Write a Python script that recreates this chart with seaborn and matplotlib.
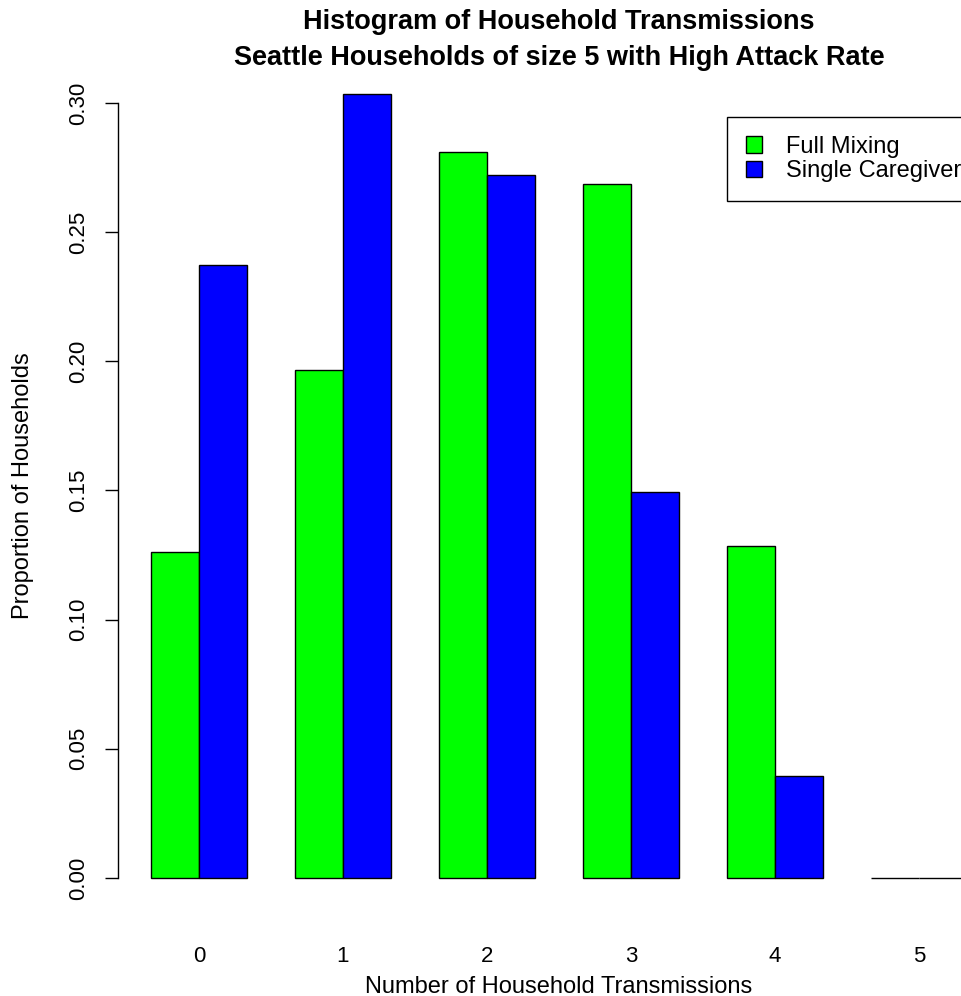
import numpy as np
import pandas as pd
import matplotlib
matplotlib.use('Agg')
import seaborn as sns
import matplotlib.pyplot as plt

# data
transmissions = ['0', '1', '2', '3', '4', '5']
full_mixing = [0.1262, 0.1967, 0.2810, 0.2687, 0.1285, 0.0]
single_caregiver = [0.2373, 0.3035, 0.2721, 0.1494, 0.0395, 0.0]
models = ['Full Mixing', 'Single Caregiver']
colors = ['#00FF00', '#0000FF']

df = pd.DataFrame({
    'transmissions': transmissions * 2,
    'proportion': full_mixing + single_caregiver,
    'model': [models[0]] * len(transmissions) + [models[1]] * len(transmissions),
})

sns.set_style('white')
plt.rcParams['font.family'] = ['Liberation Sans', 'DejaVu Sans']
plt.rcParams['text.color'] = 'black'
plt.rcParams['axes.labelcolor'] = 'black'
plt.rcParams['xtick.color'] = 'black'
plt.rcParams['ytick.color'] = 'black'

W, H = 962, 996
fig = plt.figure(figsize=(W / 100, H / 100), dpi=100)
# R-like plot region, right side runs off the picture
left, right, top, bottom = 118.4, 999.6, 62.6, 909.4
ax = fig.add_axes([left / W, (H - bottom) / H, (right - left) / W, (bottom - top) / H])

sns.barplot(data=df, x='transmissions', y='proportion', hue='model',
            palette=colors, width=2 / 3, saturation=1, errorbar=None,
            edgecolor='black', linewidth=1, ax=ax)

ax.set_xlim(-0.5597, 5.56)
ax.set_ylim(-0.01214, 0.3156)

for s in ['top', 'right', 'bottom']:
    ax.spines[s].set_visible(False)
ax.spines['left'].set_bounds(0, 0.3)
ax.spines['left'].set_color('black')
ax.spines['left'].set_linewidth(1)

yt = np.arange(0, 0.31, 0.05)
ax.set_yticks(yt)
ax.set_yticklabels(['%.2f' % v for v in yt], rotation=90, va='center')
ax.tick_params(axis='y', direction='out', length=9.4, width=1, pad=12,
               labelsize=16, left=True, color='black')
ax.tick_params(axis='x', length=0, pad=26, labelsize=16)

ax.set_xlabel('Number of Household Transmissions', fontsize=17, labelpad=6.5)
ax.set_ylabel('Proportion of Households', fontsize=17, labelpad=24)

handles, labels = ax.get_legend_handles_labels()
ax.legend(handles, labels, loc='upper left',
          bbox_to_anchor=(727 / W, (H - 117) / H), bbox_transform=fig.transFigure,
          fontsize=17, frameon=True, fancybox=False, edgecolor='black',
          framealpha=1, handlelength=0.7, handleheight=0.7,
          borderpad=0.8, labelspacing=0.1, handletextpad=1.0, borderaxespad=0)
ax.get_legend().get_frame().set_linewidth(1)

fig.text((left + right) / 2 / W, (H - 40) / H,
         'Histogram of Household Transmissions\nSeattle Households of size 5 with High Attack Rate',
         ha='center', va='center', fontsize=19.5, fontweight='bold', linespacing=1.48)

fig.savefig('out.png', dpi=100)
